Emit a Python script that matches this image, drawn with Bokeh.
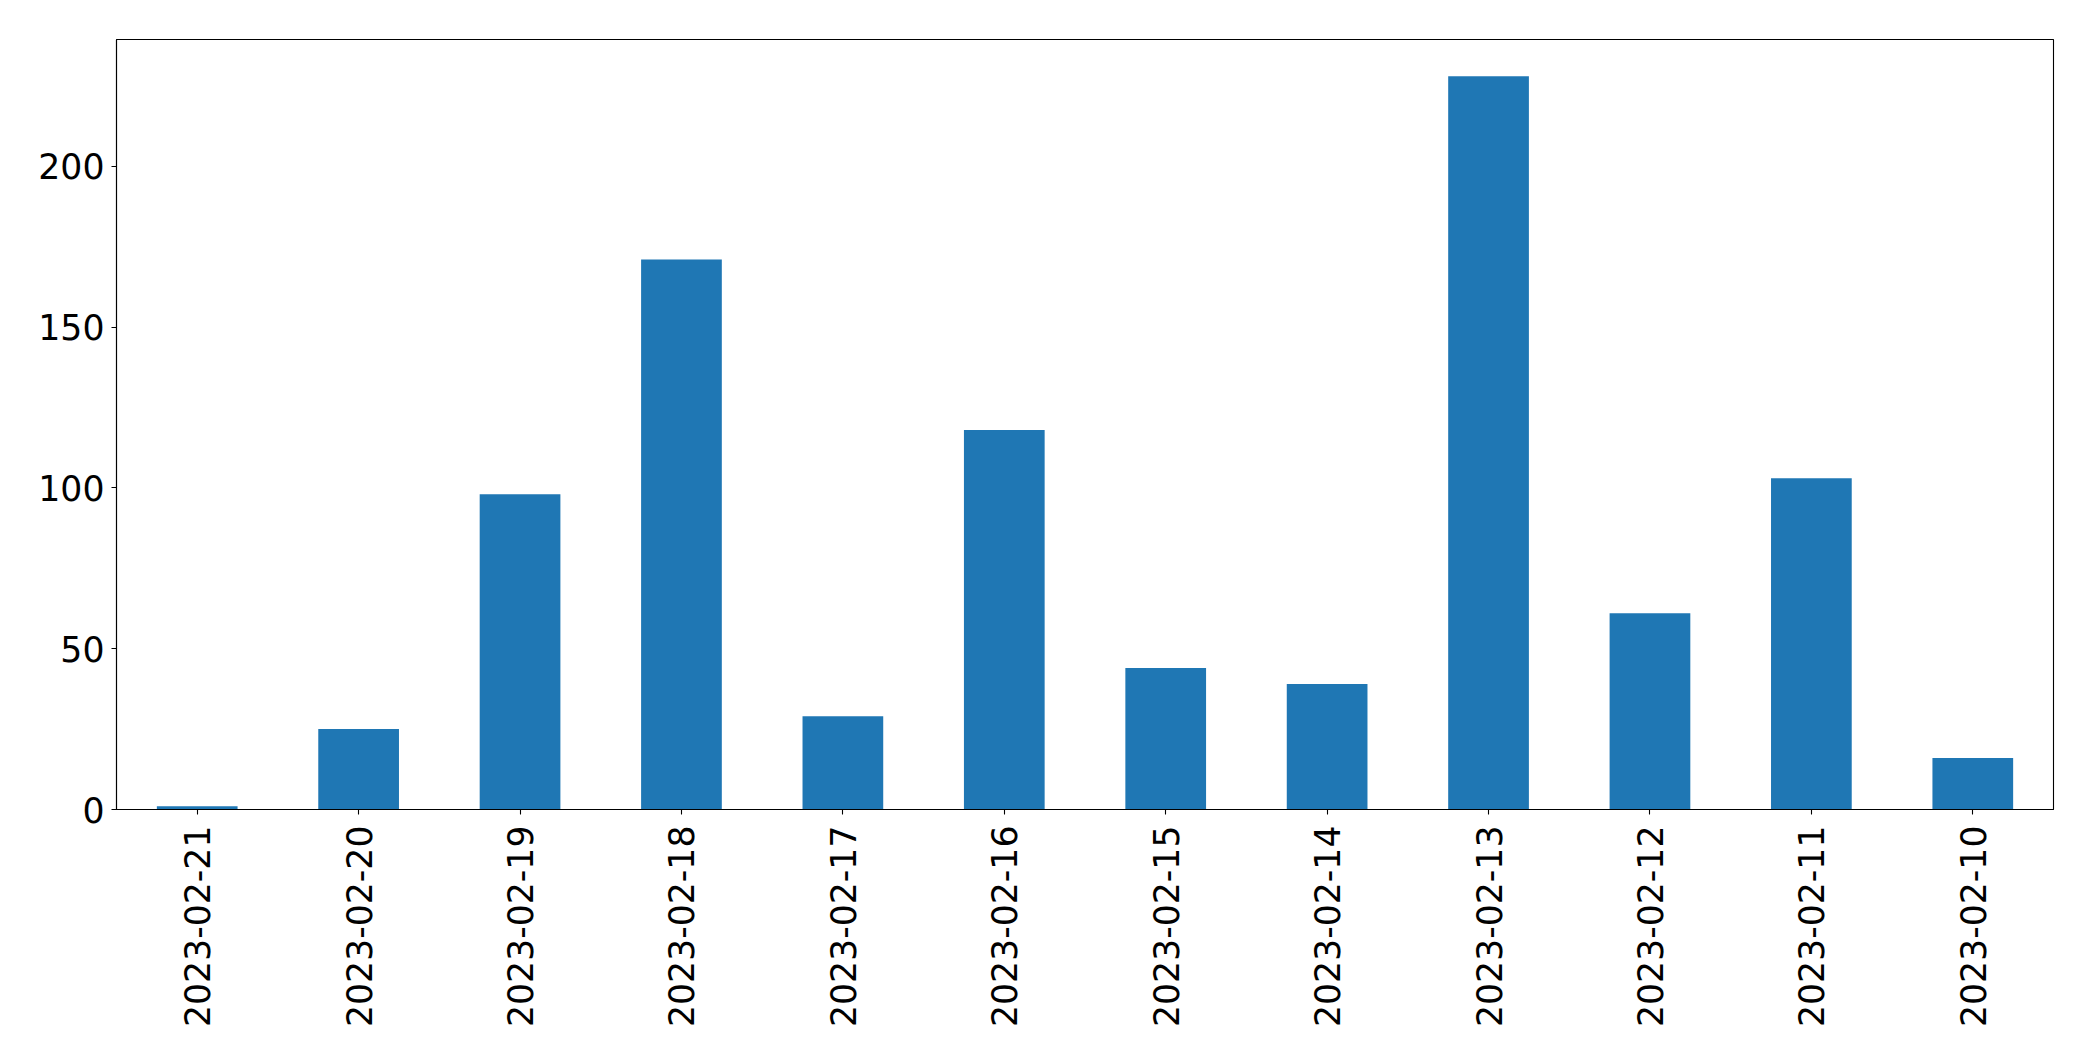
import math
from bokeh.plotting import figure
from bokeh.models import ColumnDataSource, FixedTicker, Range1d
from bokeh.embed import file_html
from bokeh.resources import INLINE

dates = ["2023-02-21", "2023-02-20", "2023-02-19", "2023-02-18", "2023-02-17", "2023-02-16",
         "2023-02-15", "2023-02-14", "2023-02-13", "2023-02-12", "2023-02-11", "2023-02-10"]
counts = [1, 25, 98, 171, 29, 118, 44, 39, 228, 61, 103, 16]
y_ticks = [0, 50, 100, 150, 200]

src = ColumnDataSource(data=dict(date=dates, count=counts))

p = figure(x_range=dates, y_range=Range1d(0, max(counts) * 1.05),
           width=2077, height=1045, output_backend="svg", toolbar_location=None,
           min_border_left=116, min_border_right=24, min_border_top=39, min_border_bottom=236)

p.vbar(x="date", top="count", width=0.5, source=src, color="#1f77b4", line_color=None)

p.xgrid.visible = False
p.ygrid.visible = False
p.outline_line_color = "black"
p.outline_line_width = 1.1
p.outline_line_alpha = 1.0

FONT = "DejaVu Sans"
SIZE = "34.7px"
for ax in (p.xaxis[0], p.yaxis[0]):
    ax.axis_line_color = "black"
    ax.axis_line_width = 1.1
    ax.major_tick_line_color = "black"
    ax.major_tick_line_width = 1.1
    ax.major_tick_out = 5
    ax.major_tick_in = 0
    ax.minor_tick_line_color = None
    ax.major_label_text_font = FONT
    ax.major_label_text_font_size = SIZE
    ax.major_label_text_color = "black"

p.yaxis[0].ticker = FixedTicker(ticks=y_ticks)
p.yaxis[0].major_label_standoff = 7
p.xaxis[0].major_label_orientation = math.pi / 2
p.xaxis[0].major_label_standoff = 11
p.xaxis[0].group_text_font_size = "0px"

open("out.html", "w").write(file_html(p, INLINE))
